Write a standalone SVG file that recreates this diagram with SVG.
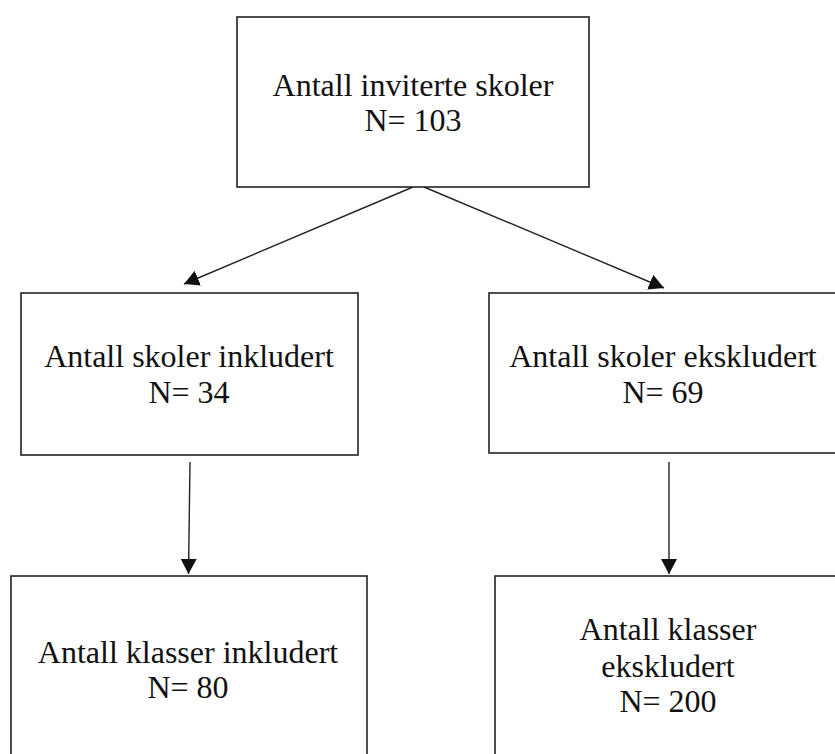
<svg xmlns="http://www.w3.org/2000/svg" width="835" height="754" viewBox="0 0 835 754">
<style>
.box{fill:#fff;stroke:#222;stroke-width:1.6}
.lbl{font-family:"Liberation Serif","Times New Roman",serif;font-size:32px;fill:#111;text-anchor:middle}
.con{stroke:#222;stroke-width:1.4;fill:none}
</style>
<defs>
<marker id="ah" markerWidth="16" markerHeight="16" viewBox="0 0 16 16" refX="15" refY="8" orient="auto" markerUnits="userSpaceOnUse">
<path d="M0,0 L15,8 L0,16 Z" fill="#111"/>
</marker>
</defs>
<rect width="835" height="754" fill="#fff"/>
<g id="connectors">
<line class="con" x1="413" y1="187" x2="184" y2="284" marker-end="url(#ah)"/>
<line class="con" x1="424" y1="187" x2="664" y2="288" marker-end="url(#ah)"/>
<line class="con" x1="190" y1="462" x2="188.5" y2="574" marker-end="url(#ah)"/>
<line class="con" x1="669" y1="462" x2="669" y2="574" marker-end="url(#ah)"/>
</g>
<g id="n1">
<rect class="box" x="237" y="17" width="352" height="170"/>
<text class="lbl" x="413" y="96">Antall inviterte skoler</text>
<text class="lbl" x="413" y="131">N= 103</text>
</g>
<g id="n2">
<rect class="box" x="21" y="293" width="337" height="162"/>
<text class="lbl" x="189" y="367">Antall skoler inkludert</text>
<text class="lbl" x="189" y="403">N= 34</text>
</g>
<g id="n3">
<rect class="box" x="489" y="293" width="360" height="160"/>
<text class="lbl" x="663" y="367">Antall skoler ekskludert</text>
<text class="lbl" x="663" y="403">N= 69</text>
</g>
<g id="n4">
<rect class="box" x="11" y="576" width="356" height="200"/>
<text class="lbl" x="188" y="663">Antall klasser inkludert</text>
<text class="lbl" x="188" y="698">N= 80</text>
</g>
<g id="n5">
<rect class="box" x="495" y="576" width="360" height="200"/>
<text class="lbl" x="668" y="640">Antall klasser</text>
<text class="lbl" x="668" y="677">ekskludert</text>
<text class="lbl" x="668" y="712">N= 200</text>
</g>
</svg>
